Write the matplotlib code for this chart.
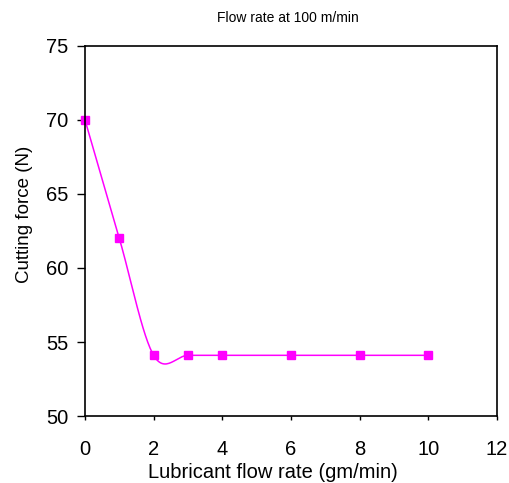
import numpy as np
import matplotlib
matplotlib.use("Agg")
import matplotlib.pyplot as plt

plt.rcParams['font.family'] = ['Liberation Sans', 'DejaVu Sans']

# data
flow = [0, 1, 2, 3, 4, 6, 8, 10]
force = [70, 62, 54.1, 54.1, 54.1, 54.1, 54.1, 54.1]


def smooth_line(x, y, n=30):
    # Excel-style smoothed line (Bezier through the points)
    p = np.column_stack([x, y]).astype(float)
    p = np.vstack([p[0], p, p[-1]])
    out = []
    t = np.linspace(0, 1, n)[:, None]
    for i in range(1, len(p) - 2):
        p0, p3 = p[i], p[i + 1]
        c1 = p0 + (p[i + 1] - p[i - 1]) / 6
        c2 = p3 - (p[i + 2] - p[i]) / 6
        seg = (1 - t)**3 * p0 + 3 * (1 - t)**2 * t * c1 + 3 * (1 - t) * t**2 * c2 + t**3 * p3
        out.append(seg)
    out = np.vstack(out)
    return out[:, 0], out[:, 1]


fig = plt.figure(figsize=(5.09, 4.83), dpi=100)
ax = fig.add_axes([0.167, 0.1387, 0.809, 0.7661])

sx, sy = smooth_line(flow, force)
ax.plot(sx, sy, color='#ff00ff', lw=1.1, clip_on=False)
ax.plot(flow, force, 's', color='#ff00ff', ms=6, clip_on=False)

ax.set_xlim(0, 12)
ax.set_ylim(50, 75)
ax.set_xticks([0, 2, 4, 6, 8, 10, 12])
ax.set_yticks([50, 55, 60, 65, 70, 75])
ax.tick_params(labelsize=14.5, width=1, direction='out')
ax.tick_params(axis='x', length=3, pad=14)
ax.tick_params(axis='y', length=6, pad=6)
for s in ax.spines.values():
    s.set_linewidth(1.2)

ax.set_xlabel('Lubricant flow rate (gm/min)', fontsize=14.5)
ax.xaxis.set_label_coords(0.456, -0.127)
ax.set_ylabel('Cutting force (N)', fontsize=13.5)
ax.yaxis.set_label_coords(-0.126, 0.546)
fig.text(0.566, 0.962, 'Flow rate at 100 m/min', fontsize=10, ha='center', va='center')

fig.savefig('out.png', dpi=100)
